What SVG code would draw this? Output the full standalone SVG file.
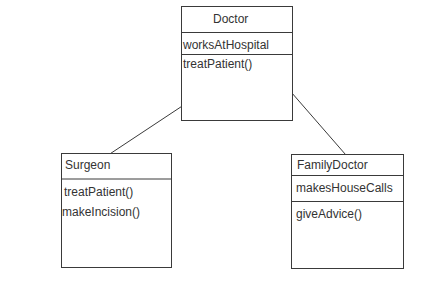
<svg xmlns="http://www.w3.org/2000/svg" width="430" height="305" viewBox="0 0 430 305">
<style>
.box{fill:#fff;stroke:#3a3a3a;stroke-width:1}
.div{stroke:#3a3a3a;stroke-width:1}
.t{font-family:"Liberation Sans",Arial,sans-serif;font-size:12px;fill:#333}
.c{stroke:#3a3a3a;stroke-width:1;fill:none}
</style>
<rect width="430" height="305" fill="#fff"/>
<g id="connectors">
<line class="c" x1="110.5" y1="153.5" x2="181.5" y2="106.5"/>
<line class="c" x1="291.5" y1="92.5" x2="345.5" y2="154.5"/>
</g>
<g id="Doctor">
<rect class="box" x="181.5" y="6.5" width="111" height="114"/>
<line class="div" x1="181.5" y1="32.5" x2="292.5" y2="32.5"/>
<line class="div" x1="181.5" y1="54.5" x2="292.5" y2="54.5"/>
<text class="t" x="213" y="23">Doctor</text>
<text class="t" x="183" y="49">worksAtHospital</text>
<text class="t" x="183" y="68">treatPatient()</text>
</g>
<g id="Surgeon">
<rect class="box" x="61.5" y="153.5" width="110" height="114"/>
<line class="div" x1="61.5" y1="179" x2="171.5" y2="179" stroke-width="2" stroke="#808080"/>
<text class="t" x="65" y="169">Surgeon</text>
<text class="t" x="64" y="196">treatPatient()</text>
<text class="t" x="62" y="216">makeIncision()</text>
</g>
<g id="FamilyDoctor">
<rect class="box" x="291.5" y="154.5" width="112" height="114"/>
<line class="div" x1="291.5" y1="175.5" x2="403.5" y2="175.5"/>
<line class="div" x1="291.5" y1="201.5" x2="403.5" y2="201.5"/>
<text class="t" x="297" y="169">FamilyDoctor</text>
<text class="t" x="296" y="192">makesHouseCalls</text>
<text class="t" x="296" y="218">giveAdvice()</text>
</g>
</svg>
